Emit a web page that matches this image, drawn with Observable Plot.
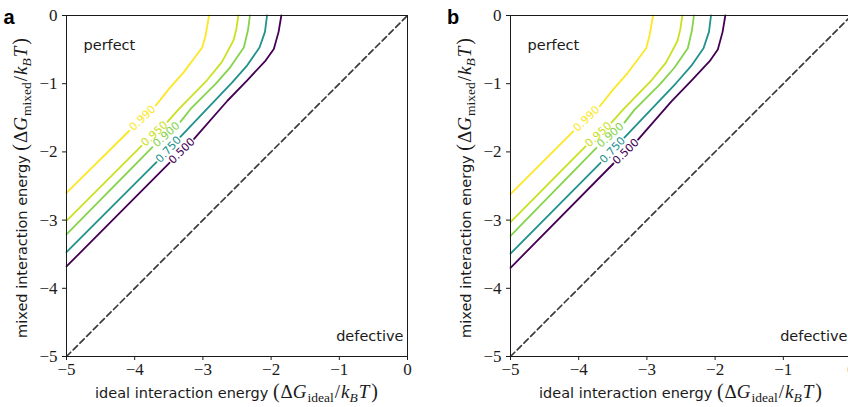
<!DOCTYPE html>
<html><head><meta charset="utf-8">
<script src="https://cdn.jsdelivr.net/npm/d3@7"></script>
<script src="https://cdn.jsdelivr.net/npm/@observablehq/plot@0.6"></script>
<style>
html,body{margin:0;padding:0;background:#fff;}
#wrap{position:relative;width:848px;height:407px;overflow:hidden;background:#fff;}
#wrap svg{position:absolute;top:0;}
</style></head><body><div id="wrap"></div>
<script>
// ---- data ----
const levels = [0.5, 0.75, 0.9, 0.95, 0.99];
const levelLabels = ["0.500", "0.750", "0.900", "0.950", "0.990"];
const xTicks = [-5, -4, -3, -2, -1, 0];
const yTicks = [-5, -4, -3, -2, -1, 0];
const diagonal = [[-5, -5], [0, 0]];
const regionLabels = ["perfect", "defective"];
const panelLetters = ["a", "b"];
// contour lines (x = ideal energy, y = mixed energy); null = gap where the label sits
const contour500 = [[-1.85,0],[-1.89,-0.24],[-1.96,-0.49],[-2.08,-0.66],[-2.35,-0.95],[-2.64,-1.25],[-3.13,-1.81],null,[-3.49,-2.16],[-5,-3.68]];
const contour750 = [[-2.06,0],[-2.09,-0.24],[-2.17,-0.47],[-2.35,-0.73],[-2.57,-0.98],[-2.94,-1.37],[-3.33,-1.78],null,[-3.68,-2.15],[-5,-3.47]];
const contour900 = [[-2.31,0],[-2.34,-0.22],[-2.40,-0.47],[-2.60,-0.76],[-2.81,-1.00],[-3.18,-1.37],[-3.33,-1.56],null,[-3.74,-1.93],[-5,-3.21]];
const contour950 = [[-2.48,0],[-2.51,-0.20],[-2.55,-0.36],[-2.72,-0.68],[-2.94,-0.95],[-3.35,-1.37],[-3.52,-1.56],null,[-3.90,-1.91],[-5,-3.01]];
const contour990 = [[-2.91,0],[-2.96,-0.29],[-3.01,-0.47],[-3.28,-0.83],[-3.50,-1.08],[-3.69,-1.32],null,[-4.08,-1.69],[-5,-2.60]];
// panel b
const contour500b = [[-1.85,0],[-1.89,-0.24],[-1.96,-0.50],[-2.08,-0.67],[-2.35,-0.96],[-2.64,-1.26],[-3.13,-1.82],null,[-3.49,-2.17],[-5,-3.70]];
const contour750b = [[-2.06,0],[-2.09,-0.24],[-2.17,-0.48],[-2.35,-0.74],[-2.57,-0.99],[-2.94,-1.38],[-3.33,-1.79],null,[-3.68,-2.16],[-5,-3.49]];
const contour900b = [[-2.31,0],[-2.34,-0.22],[-2.40,-0.48],[-2.60,-0.77],[-2.81,-1.01],[-3.18,-1.38],[-3.33,-1.57],null,[-3.74,-1.94],[-5,-3.23]];
const contour950b = [[-2.48,0],[-2.51,-0.20],[-2.55,-0.37],[-2.72,-0.69],[-2.94,-0.96],[-3.35,-1.38],[-3.52,-1.57],null,[-3.90,-1.92],[-5,-3.03]];
const contour990b = [[-2.91,0],[-2.96,-0.29],[-3.01,-0.48],[-3.28,-0.84],[-3.50,-1.09],[-3.69,-1.33],null,[-4.08,-1.70],[-5,-2.62]];

const panelsContours = [
  [contour500, contour750, contour900, contour950, contour990],
  [contour500b, contour750b, contour900b, contour950b, contour990b]
];

// ---- drawing ----
const SANS = "DejaVu Sans";
const SERIF = "Liberation Serif";
const INK = "#1a1a1a";
const fmt = d3.format("~g");

function lineRows(contours) {
  return contours.flatMap((pts, i) => pts.map(p => p
    ? {level: levels[i], x: p[0], y: p[1]}
    : {level: levels[i], x: NaN, y: NaN}));
}
function labelRows(contours) {
  return contours.map((pts, i) => {
    const k = pts.indexOf(null);
    const a = pts[k - 1], b = pts[k + 1];
    return {
      level: levels[i], text: levelLabels[i],
      x: (a[0] + b[0]) / 2, y: (a[1] + b[1]) / 2,
      rotate: -Math.atan2(a[1] - b[1], a[0] - b[0]) * 180 / Math.PI
    };
  });
}

function richText(sel, x, y, rotate, parts) {
  const t = sel.append("text")
    .attr("transform", `translate(${x},${y}) rotate(${rotate})`)
    .attr("text-anchor", "middle").attr("fill", INK);
  for (const p of parts) {
    const s = t.append("tspan").text(p.t).attr("font-family", p.f).attr("font-size", p.s);
    if (p.i) s.attr("font-style", "italic");
    if (p.dy) s.attr("dy", p.dy);
    if (p.dx) s.attr("dx", p.dx);
  }
}
function mathParts(sub) {
  return [
    {t: "(", f: SERIF, s: 20},
    {t: "Δ", f: SERIF, s: 19, dx: 1},
    {t: "G", f: SERIF, s: 19, i: true},
    {t: sub, f: SERIF, s: 13.5, dy: 4, dx: 1},
    {t: "/", f: SERIF, s: 19, dy: -4, dx: 1},
    {t: "k", f: SERIF, s: 19, i: true, dx: 1},
    {t: "B", f: SERIF, s: 13.5, i: true, dy: 4},
    {t: "T", f: SERIF, s: 19, i: true, dy: -4, dx: 1},
    {t: ")", f: SERIF, s: 20, dx: 2}
  ];
}

function makePanel(idx) {
  const contours = panelsContours[idx];
  const svg = Plot.plot({
    width: 420, height: 407,
    marginLeft: 66, marginRight: 13, marginTop: 15, marginBottom: 51,
    style: {color: INK, background: "transparent", overflow: "visible"},
    x: {domain: [-5, 0]},
    y: {domain: [-5, 0]},
    color: {type: "linear", domain: [0.5, 0.99], scheme: "viridis"},
    marks: [
      Plot.line(diagonal, {x: d => d[0], y: d => d[1], stroke: "#3a3a3a", strokeWidth: 1.7, strokeDasharray: "6,3.5"}),
      Plot.line(lineRows(contours), {x: "x", y: "y", z: "level", stroke: "level", strokeWidth: 1.8}),
      Plot.text(labelRows(contours), {x: "x", y: "y", text: "text", fill: "level", rotate: "rotate",
        fontSize: 11, fontFamily: SANS, textAnchor: "middle", lineAnchor: "middle"}),
      Plot.text([regionLabels[0]], {frameAnchor: "top-left", text: d => d, textAnchor: "start", lineAnchor: "bottom",
        dx: 17, dy: 34, fontSize: 14.5, fontFamily: SANS, fill: INK}),
      Plot.text([regionLabels[1]], {frameAnchor: "bottom-right", text: d => d, textAnchor: "end", lineAnchor: "bottom",
        dx: -4, dy: -16, fontSize: 14.5, fontFamily: SANS, fill: INK}),
      Plot.frame({stroke: INK, strokeWidth: 1}),
      Plot.axisX({ticks: xTicks, tickFormat: fmt, tickSize: 4, tickPadding: 2, fontSize: 17, fontFamily: SERIF, label: null}),
      Plot.axisY({ticks: yTicks, tickFormat: fmt, tickSize: 4, tickPadding: 5, fontSize: 17, fontFamily: SERIF, label: null})
    ]
  });
  const s = d3.select(svg);
  s.append("text").attr("x", 9).attr("y", 23.5).attr("font-family", "Liberation Sans")
    .attr("font-weight", "bold").attr("font-size", 20).attr("fill", "#000").text(panelLetters[idx]);
  richText(s, 236.5, 398, 0, [{t: "ideal interaction energy ", f: SANS, s: 14.5}, ...mathParts("ideal")]);
  richText(s, 27, 188, -90, [{t: "mixed interaction energy ", f: SANS, s: 14.5}, ...mathParts("mixed")]);
  svg.style.left = (idx === 0 ? 0 : 443.5) + "px";
  return svg;
}

const wrap = document.getElementById("wrap");
wrap.appendChild(makePanel(0));
wrap.appendChild(makePanel(1));
</script>
</body></html>
